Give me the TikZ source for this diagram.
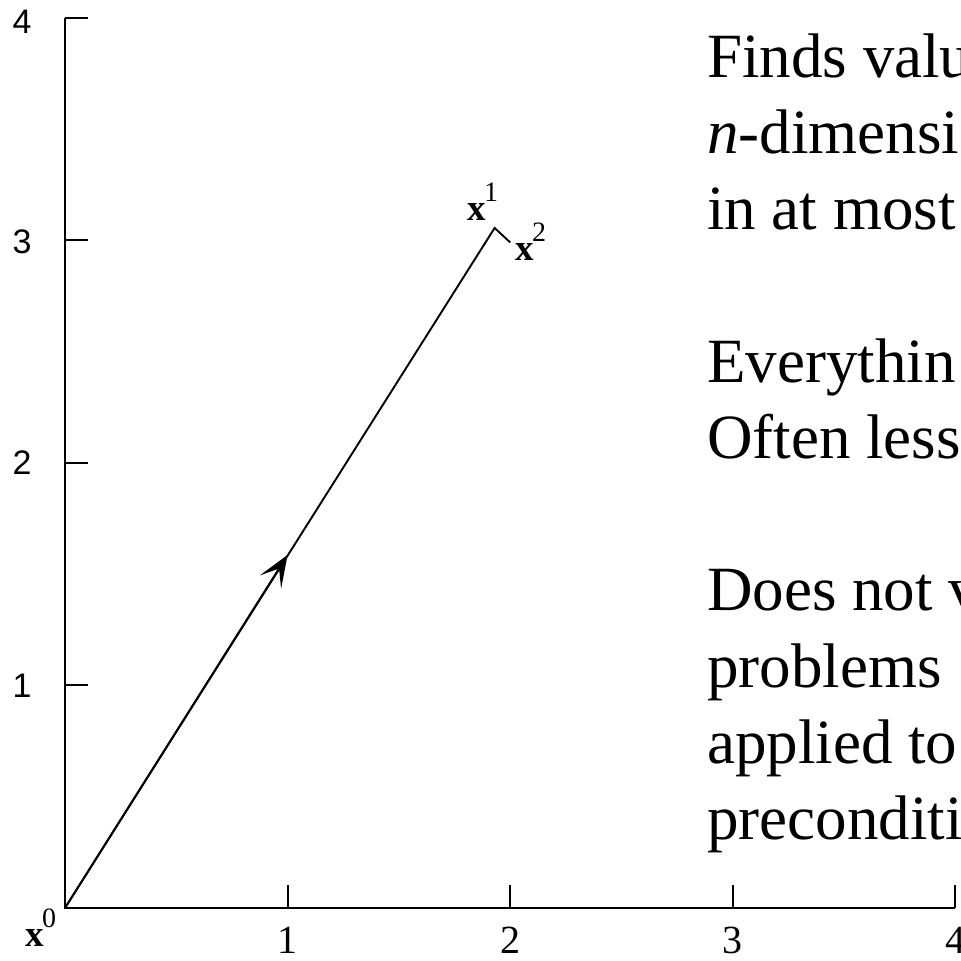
\documentclass[tikz,border=0pt]{standalone}
\usepackage{fontspec}
\usetikzlibrary{arrows.meta}
\setmainfont{Liberation Serif}
\newfontfamily\ticksans{Liberation Sans}
\newcommand\ptlabel[1]{\fontsize{37}{37}\selectfont\textbf{x}\kern-1.5pt\raisebox{19pt}{\fontsize{28}{28}\selectfont #1}}
\begin{document}
\begin{tikzpicture}[x=222.6pt,y=222.6pt,
  axis/.style={line width=1.9pt},
  pathline/.style={line width=1.9pt},
  ylab/.style={font=\ticksans\fontsize{34}{34}\selectfont, inner sep=0pt},
  xlab/.style={font=\fontsize{40}{40}\selectfont, anchor=base, inner sep=0pt},
  ptlab/.style={anchor=base west, inner sep=0pt},
  body/.style={font=\fontsize{63}{76}\selectfont, anchor=base west, inner sep=0pt}]
\useasboundingbox (-65/222.6,-53/222.6) rectangle (896/222.6,908/222.6);
% axes
\coordinate (O) at (0,0);
\coordinate (Ytop) at (0,4);
\coordinate (Xend) at (4,0);
\draw[axis] (Ytop) -- (O) -- (Xend);
\foreach \k in {1,2,3,4} {
  \draw[axis] (\k,0) -- ++(0,23/222.6);
  \draw[axis] (0,\k) -- ++(23/222.6,0);
}
\foreach \k/\yy in {1/686,2/463,3/242,4/22}
  \node[ylab] (yl\k) at (-43/222.6,{(908-\yy)/222.6}) {\k};
\foreach \k in {1,2,3,4}
  \node[xlab] (xl\k) at (\k,-46/222.6) {\k};
% points
\coordinate (x0) at (0,0);
\coordinate (x1) at (1.93,3.055);
\coordinate (x2) at (2.0,2.99);
\coordinate (mid) at (1.0,1.586);
\draw[pathline] (x0) -- (x1) -- (x2);
\draw[pathline,-{Stealth[length=32pt,width=25pt,inset=16pt]}] (x0) -- (mid);
\node[ptlab] (l0) at (-40/222.6,-39/222.6) {\ptlabel{0}};
\node[ptlab] (l1) at (402/222.6,{(908-221)/222.6}) {\ptlabel{1}};
\node[ptlab] (l2) at (450/222.6,{(908-261)/222.6}) {\ptlabel{2}};
% text
\node[body] (t1) at (642/222.6,{(908-78)/222.6}) {Finds valu};
\node[body] (t2) at (642/222.6,{(908-154)/222.6}) {\textit{n}-dimensi};
\node[body] (t3) at (642/222.6,{(908-230)/222.6}) {in at most};
\node[body] (t4) at (642/222.6,{(908-383)/222.6}) {Everythin};
\node[body] (t5) at (642/222.6,{(908-459)/222.6}) {Often less};
\node[body] (t6) at (642/222.6,{(908-611)/222.6}) {Does not v};
\node[body] (t7) at (642/222.6,{(908-688)/222.6}) {problems};
\node[body] (t8) at (642/222.6,{(908-764)/222.6}) {applied to};
\node[body] (t9) at (642/222.6,{(908-840)/222.6}) {preconditi};
\end{tikzpicture}
\end{document}
